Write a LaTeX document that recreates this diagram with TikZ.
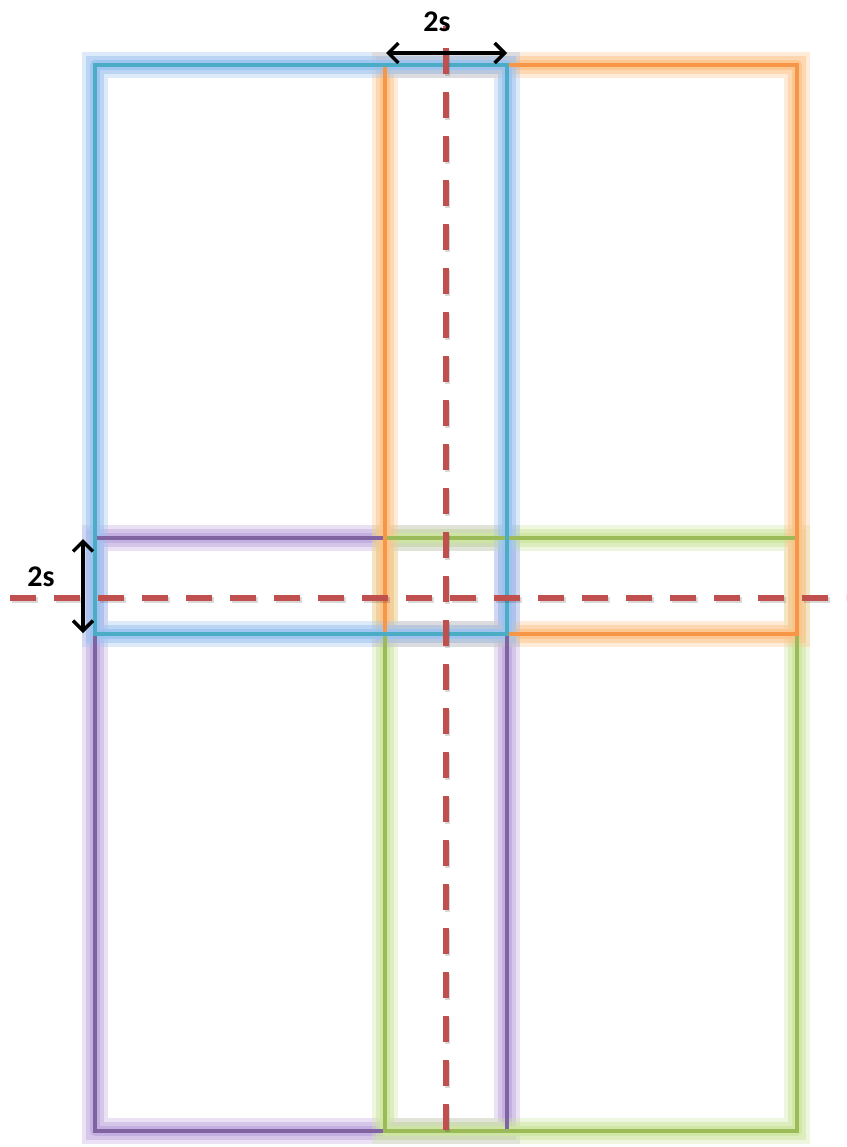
\documentclass[tikz,border=0pt]{standalone}
\usepackage{fontspec}
\setmainfont{Carlito}
\usepackage{xcolor}
\definecolor{blueline}{HTML}{4BACC6}
\definecolor{blueglow}{HTML}{9DC3F0}
\definecolor{orangeline}{HTML}{F79646}
\definecolor{orangeglow}{HTML}{FDC58E}
\definecolor{purpleline}{HTML}{8064A2}
\definecolor{purpleglow}{HTML}{C2ADE0}
\definecolor{greenline}{HTML}{9BBB59}
\definecolor{greenglow}{HTML}{CFE6A3}
\definecolor{cutred}{HTML}{C0504D}
\usetikzlibrary{arrows.meta, calc}

\begin{document}
\begin{tikzpicture}[
        x=1pt, y=-1pt,
        glow/.style={
            line join=round,
            preaction={draw=#1glow, line width=26pt, draw opacity=0.35},
            preaction={draw=#1glow, line width=18pt, draw opacity=0.55},
            draw=#1glow, line width=10pt, draw opacity=0.9
        },
        tile/.style={draw=#1line, line width=4pt},
        cut/.style={draw=cutred, line width=5.5pt, dash pattern=on 26pt off 18pt, dash phase=22pt},
        cutshadow/.style={cut, draw=black, draw opacity=0.15},
        span/.style={<->, >={Straight Barb[length=10pt, width=20pt]}, line width=3.5pt, black},
        spanlabel/.style={font=\fontsize{30}{34}\selectfont\bfseries, inner sep=0pt}
    ]

    \useasboundingbox (0,0) rectangle (846,1147);

    % Tile corners
    \coordinate (purpleNW) at (95,538);   \coordinate (purpleSE) at (507,1131);
    \coordinate (greenNW)  at (385,538);  \coordinate (greenSE)  at (797,1131);
    \coordinate (orangeNW) at (385,65);   \coordinate (orangeSE) at (797,634);
    \coordinate (blueNW)   at (95,65);    \coordinate (blueSE)   at (507,634);

    % Tiles: glow first, then edges
    \foreach \t in {purple, green, orange, blue}
        \draw[glow=\t] (\t NW) rectangle (\t SE);
    \foreach \t in {purple, green, orange, blue}
        \draw[tile=\t] (\t NW) rectangle (\t SE);

    % Cut lines
    \coordinate (vcutTop) at (446,26);  \coordinate (vcutBot) at (446,1147);
    \coordinate (hcutL)   at (10,598);  \coordinate (hcutR)   at (846,598);
    \draw[cutshadow, dash phase=0pt] ($(vcutTop)+(1.5,24)$) -- ($(vcutBot)+(1.5,2)$);
    \draw[cutshadow, dash phase=0pt] ($(hcutL)+(1.5,2)$) -- ($(hcutR)+(1.5,2)$);
    \draw[cut] (vcutTop) -- (vcutBot);
    \draw[cut, dash phase=0pt] (hcutL) -- (hcutR);

    % Overlap widths
    \coordinate (topL) at (386,53);  \coordinate (topR) at (507,53);
    \coordinate (leftT) at (83,539); \coordinate (leftB) at (83,633);
    \draw[span] (topL) -- (topR);
    \draw[span] (leftT) -- (leftB);
    \node[spanlabel] (topgap) at (437,22) {2s};
    \node[spanlabel] (leftgap) at (41,577) {2s};

\end{tikzpicture}
\end{document}
